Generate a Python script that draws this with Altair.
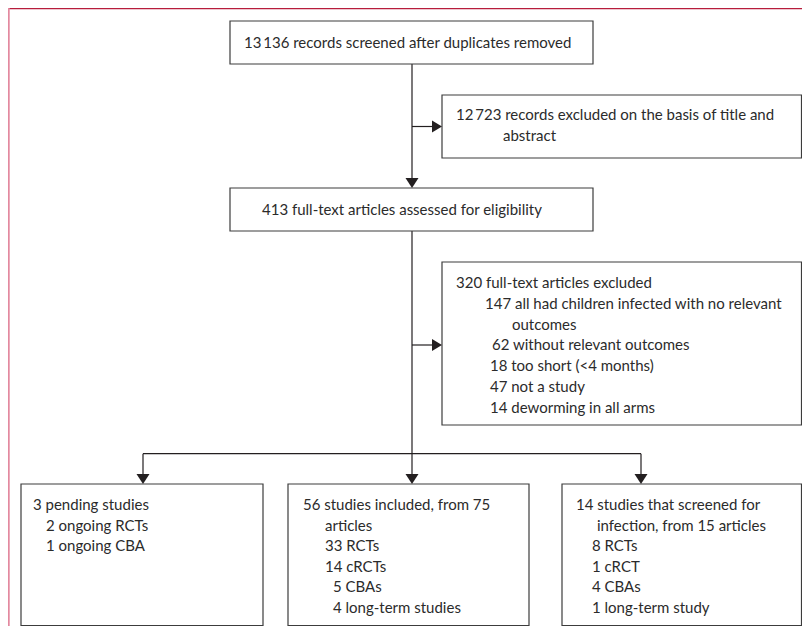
import altair as alt
import pandas as pd

# ---------------- content (text of each box, line by line) ----------------
screened_lines = ["13\u2009136 records screened after duplicates removed"]
excluded_title_lines = ["12\u2009723 records excluded on the basis of title and", "abstract"]
assessed_lines = ["413 full-text articles assessed for eligibility"]
excluded_full_lines = [
    "320 full-text articles excluded",
    "147 all had children infected with no relevant",
    "outcomes",
    "62 without relevant outcomes",
    "18 too short (<4 months)",
    "47 not a study",
    "14 deworming in all arms",
]
pending_lines = ["3 pending studies", "2 ongoing RCTs", "1 ongoing CBA"]
included_lines = [
    "56 studies included, from 75",
    "articles",
    "33 RCTs",
    "14 cRCTs",
    "5 CBAs",
    "4 long-term studies",
]
infection_lines = [
    "14 studies that screened for",
    "infection, from 15 articles",
    "8 RCTs",
    "1 cRCT",
    "4 CBAs",
    "1 long-term study",
]

# ---------------- layout (pixel positions of the flowchart) ----------------
RIGHT = 801.5
BOTTOM = 625.5
# box: (x0, x1, y0, y1, text x per line, first line y, line step, lines)
boxes = {
    "screened": (230, 593, 21, 64, [244], 42.5, 21, screened_lines),
    "excl_title": (442, RIGHT, 95, 158, [456, 503], 115, 21, excluded_title_lines),
    "assessed": (230, 593, 188, 231, [262], 209.5, 21, assessed_lines),
    "excl_full": (442, RIGHT, 262, 425, [456, 485, 512, 492, 490, 490, 490], 283, 20.8, excluded_full_lines),
    "pending": (21, 263, 484, BOTTOM, [33, 46, 46], 505, 20.6, pending_lines),
    "included": (288, 529, 484, BOTTOM, [303, 325, 325, 325, 333, 333], 505, 20.6, included_lines),
    "infection": (562, RIGHT, 484, BOTTOM, [576, 597, 592, 592, 592, 592], 505, 20.6, infection_lines),
}

box_rows, text_rows = [], []
for name, (x0, x1, y0, y1, xs, ty, step, lines) in boxes.items():
    box_rows.append({"box": name, "x0": x0, "x1": x1, "y0": y0, "y1": y1})
    for i, line in enumerate(lines):
        text_rows.append({"box": name, "x": xs[i], "y": ty + i * step, "text": line})
box_df = pd.DataFrame(box_rows)
text_df = pd.DataFrame(text_rows)

TRUNK_X = 412
SPLIT_Y = 453.7
line_df = pd.DataFrame([
    {"x0": TRUNK_X, "x1": TRUNK_X, "y0": 64, "y1": 184},
    {"x0": TRUNK_X, "x1": 437, "y0": 126.5, "y1": 126.5},
    {"x0": TRUNK_X, "x1": TRUNK_X, "y0": 231, "y1": 480},
    {"x0": TRUNK_X, "x1": 437, "y0": 345, "y1": 345},
    {"x0": 143, "x1": 641, "y0": SPLIT_Y, "y1": SPLIT_Y},
    {"x0": 143, "x1": 143, "y0": SPLIT_Y, "y1": 480},
    {"x0": 641, "x1": 641, "y0": SPLIT_Y, "y1": 480},
])

# arrow head centres (tip sits at the box edge)
down_df = pd.DataFrame([
    {"x": TRUNK_X, "y": 188 - 5},
    {"x": 143, "y": 484 - 5},
    {"x": TRUNK_X, "y": 484 - 5},
    {"x": 641, "y": 484 - 5},
])
right_df = pd.DataFrame([
    {"x": 442 - 5, "y": 126.5},
    {"x": 442 - 5, "y": 345},
])

frame_top = pd.DataFrame([{"x0": 8, "x1": 802, "y0": 8.6, "y1": 8.6}])
frame_left = pd.DataFrame([{"x0": 8.8, "x1": 8.8, "y0": 8, "y1": 626}])

FONT = "Lato, Open Sans, sans-serif"
INK = "#231f20"

xs = alt.Scale(domain=[8, 802], nice=False, zero=False)
ys = alt.Scale(domain=[8, 626], nice=False, zero=False, reverse=True)

def X(f):
    return alt.X(f, type="quantitative", scale=xs, axis=None)

def Y(f):
    return alt.Y(f, type="quantitative", scale=ys, axis=None)

rects = alt.Chart(box_df).mark_rect(fill="white", stroke="#3c3c3c", strokeWidth=1.2).encode(
    x=X("x0"), x2="x1", y=Y("y0"), y2="y1"
)
lines = alt.Chart(line_df).mark_rule(color=INK, strokeWidth=1.2).encode(
    x=X("x0"), x2="x1", y=Y("y0"), y2="y1"
)
downs = alt.Chart(down_df).mark_point(
    shape="M-1,-0.77L1,-0.77L0,0.77Z", size=169, filled=True, fill=INK, opacity=1, strokeWidth=0
).encode(x=X("x"), y=Y("y"))
rights = alt.Chart(right_df).mark_point(
    shape="M-0.83,-1L0.83,0L-0.83,1Z", size=144, filled=True, fill=INK, opacity=1, strokeWidth=0
).encode(x=X("x"), y=Y("y"))
texts = alt.Chart(text_df).mark_text(
    align="left", baseline="middle", font=FONT, fontSize=15, color="#2b2b2b"
).encode(x=X("x"), y=Y("y"), text="text")
top_rule = alt.Chart(frame_top).mark_rule(color="#b71c3c", strokeWidth=1.2).encode(
    x=X("x0"), x2="x1", y=Y("y0"), y2="y1"
)
left_rule = alt.Chart(frame_left).mark_rule(color="#e3899f", strokeWidth=1.8).encode(
    x=X("x0"), x2="x1", y=Y("y0"), y2="y1"
)

chart = alt.layer(top_rule, left_rule, lines, rects, downs, rights, texts).properties(
    width=794, height=618, padding=0, autosize=alt.AutoSizeParams(type="none"),
    background="white",
).configure_view(stroke=None)

chart.save("out.html", embed_options={"renderer": "svg", "actions": False})
